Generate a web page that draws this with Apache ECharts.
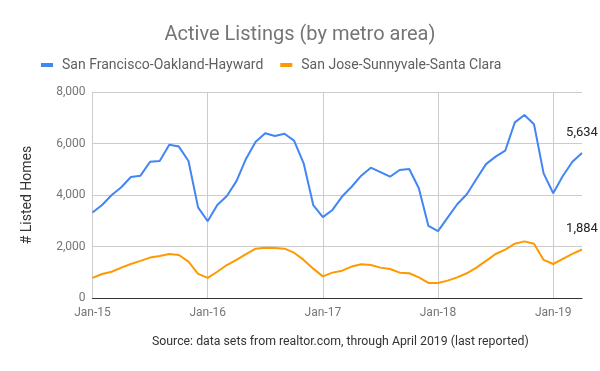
<!DOCTYPE html>
<html>
<head>
<meta charset="utf-8">
<script src="https://cdn.jsdelivr.net/npm/echarts@6/dist/echarts.min.js"></script>
<style>html,body{margin:0;padding:0;background:#fff}#c{width:600px;height:371px}</style>
</head>
<body>
<div id="c"></div>
<script>
var years = ['15','16','17','18','19'];
var monthNames = ['Jan','Feb','Mar','Apr','May','Jun','Jul','Aug','Sep','Oct','Nov','Dec'];
var categories = [];
for (var y = 0; y < years.length; y++) {
  for (var m = 0; m < 12; m++) {
    if (y === 4 && m > 3) break;
    categories.push(monthNames[m] + '-' + years[y]);
  }
}
var sfValues = [3320,3610,4000,4300,4700,4750,5290,5320,5950,5880,5320,3520,
  2980,3610,3960,4540,5410,6070,6400,6290,6380,6110,5230,3610,
  3140,3420,3940,4320,4750,5060,4890,4710,4970,5010,4260,2800,
  2600,3120,3640,4030,4620,5200,5490,5720,6820,7110,6750,4840,
  4070,4740,5290,5634];
var sjValues = [780,930,1020,1180,1320,1440,1570,1630,1710,1670,1410,940,
  780,1020,1280,1480,1700,1915,1955,1940,1915,1760,1480,1140,
  840,985,1060,1220,1310,1280,1180,1125,985,960,800,585,
  585,675,800,960,1180,1440,1710,1880,2110,2200,2110,1480,
  1320,1515,1710,1884];
var seriesNames = ['San Francisco-Oakland-Hayward', 'San Jose-Sunnyvale-Santa Clara'];
var yTicks = [0, 2000, 4000, 6000, 8000];

function fmt(v){ return v.toString().replace(/\B(?=(\d{3})+(?!\d))/g, ','); }
function lastLabel(arr){
  return function(p){ return p.dataIndex === arr.length - 1 ? fmt(arr[p.dataIndex]) : ''; };
}

var chart = echarts.init(document.getElementById('c'), null, {renderer:'canvas'});
chart.setOption({
  animation: false,
  textStyle: {fontFamily: 'Roboto'},
  title: {
    text: 'Active Listings (by metro area)',
    left: 'center', top: 20,
    textStyle: {fontSize: 20, fontWeight: 'normal', color: '#757575', fontFamily: 'Roboto'}
  },
  legend: {
    top: 53, left: 36,
    itemWidth: 12, itemHeight: 4, itemGap: 17,
    icon: 'rect',
    textStyle: {fontSize: 14, color: '#5f5f5f', fontFamily: 'Roboto', padding: [0, 0, 0, 4]},
    data: seriesNames
  },
  grid: {left: 92.5, right: 18, top: 92, bottom: 73},
  xAxis: {
    type: 'category',
    data: categories,
    boundaryGap: false,
    axisLine: {lineStyle: {color: '#333', width: 1}},
    axisTick: {show: false},
    axisLabel: {
      interval: function(i){ return i % 12 === 0; },
      color: '#757575', fontSize: 12, margin: 9, fontFamily: 'Roboto'
    },
    splitLine: {
      show: true,
      interval: function(i){ return i % 12 === 0; },
      lineStyle: {color: '#ccc', width: 1}
    }
  },
  yAxis: {
    type: 'value',
    min: yTicks[0], max: yTicks[yTicks.length-1], interval: 2000,
    name: '# Listed Homes',
    nameLocation: 'middle', nameGap: 58,
    nameTextStyle: {fontSize: 14, color: '#333', fontFamily: 'Roboto'},
    axisLine: {show: false},
    axisTick: {show: false},
    axisLabel: {color: '#757575', fontSize: 12, margin: 7, formatter: function(v){ return fmt(v); }, fontFamily: 'Roboto'},
    splitLine: {lineStyle: {color: '#ccc', width: 1}}
  },
  series: [
    {
      name: seriesNames[0], type: 'line', data: sfValues,
      symbol: 'circle', symbolSize: 0.01, showSymbol: true,
      lineStyle: {color: '#4285F4', width: 2},
      itemStyle: {color: '#4285F4'},
      label: {show: true, position: 'top', distance: 14, color: '#222', fontSize: 13, fontFamily: 'Roboto', formatter: lastLabel(sfValues)},
      z: 3
    },
    {
      name: seriesNames[1], type: 'line', data: sjValues,
      symbol: 'circle', symbolSize: 0.01, showSymbol: true,
      lineStyle: {color: '#FF9900', width: 2},
      itemStyle: {color: '#FF9900'},
      label: {show: true, position: 'top', distance: 14, color: '#222', fontSize: 13, fontFamily: 'Roboto', formatter: lastLabel(sjValues)},
      z: 2
    }
  ],
  graphic: [{
    type: 'text', left: 152, top: 336,
    style: {text: 'Source: data sets from realtor.com, through April 2019 (last reported)', fontSize: 12.3, fill: '#333', fontFamily: 'Roboto'}
  }]
});
</script>
</body>
</html>
